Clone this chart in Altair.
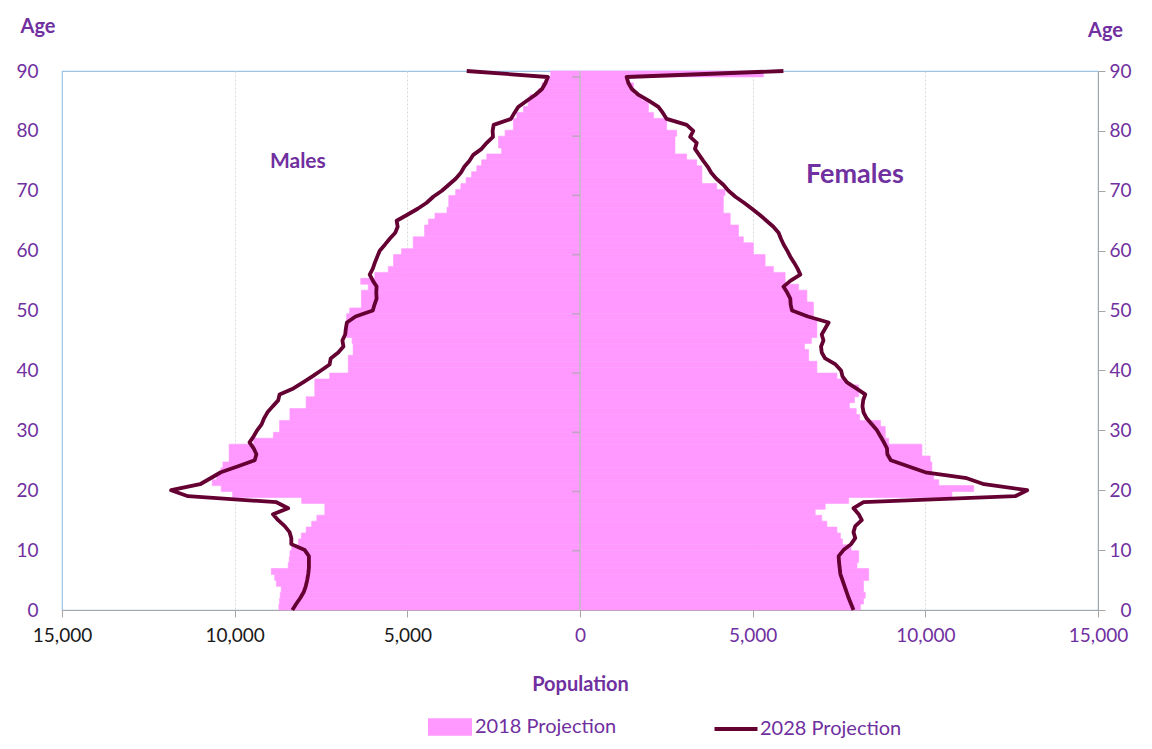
import altair as alt
import pandas as pd

# ---------------- data ----------------
ages = list(range(91))

males_2018 = [8720, 8700, 8680, 8650, 8790, 8840, 8940, 8450, 8420, 8400,
              8350, 8150, 8070, 7930, 7770, 7620, 7390, 7390, 8060, 10060,
              10390, 10650, 10520, 10400, 10340, 10160, 10160, 10160, 9450, 8880,
              8700, 8700, 8400, 8400, 7930, 7930, 7680, 7680, 7680, 7250,
              6710, 6710, 6710, 6570, 6570, 6600, 6760, 6760, 6760, 6760,
              6670, 6330, 6330, 6330, 6130, 6350, 5940, 5550, 5400, 5400,
              5170, 4830, 4830, 4500, 4500, 4390, 4200, 3850, 3800, 3800,
              3600, 3450, 3300, 3140, 2990, 2850, 2700, 2270, 2360, 2360,
              2170, 1930, 1930, 1830, 1640, 1500, 1450, 1200, 1100, 970,
              850]

females_2018 = [8120, 8210, 8260, 8210, 8210, 8360, 8360, 8020, 8070, 8070,
                7850, 7600, 7540, 7440, 7150, 7000, 6810, 7100, 7780, 10770,
                11400, 10390, 10240, 10190, 10190, 10140, 9900, 9900, 8940, 8840,
                8840, 8700, 8100, 8000, 7800, 7950, 8070, 8070, 7700, 7440,
                6860, 6860, 6620, 6620, 6500, 6700, 6860, 6860, 6860, 6760,
                6760, 6760, 6570, 6570, 6330, 5940, 5940, 5600, 5360, 5360,
                5020, 5020, 4730, 4590, 4590, 4350, 4350, 4150, 4150, 4150,
                4200, 3960, 3530, 3530, 3530, 3380, 3090, 2750, 2750, 2750,
                2800, 2510, 2510, 2130, 1980, 1980, 1790, 1550, 1550, 1400,
                5310]

males_2028 = [8330, 8220, 8100, 8000, 7940, 7900, 7870, 7850, 7850, 7850,
              7970, 8360, 8360, 8410, 8550, 8740, 8890, 8450, 8790, 11350,
              11840, 11000, 10700, 10400, 9900, 9420, 9370, 9450, 9570, 9450,
              9350, 9220, 9150, 9050, 8900, 8740, 8700, 8300, 8020, 7750,
              7500, 7250, 7220, 7000, 6850, 6880, 6800, 6780, 6750, 6500,
              6000, 5950, 5890, 5900, 5890, 6000, 6090, 6000, 5940, 5870,
              5800, 5650, 5510, 5350, 5280, 5310, 5000, 4700, 4440, 4250,
              4000, 3800, 3600, 3450, 3350, 3200, 3090, 2850, 2700, 2520,
              2530, 2500, 2000, 1900, 1790, 1550, 1300, 1100, 1000, 930,
              3280]

females_2028 = [7920, 7850, 7780, 7720, 7660, 7600, 7540, 7520, 7500, 7490,
                7630, 7850, 7970, 7920, 7970, 8160, 8070, 7920, 8210, 12600,
                12950, 11700, 11200, 10000, 9500, 9000, 8900, 8890, 8800, 8700,
                8600, 8450, 8300, 8210, 8180, 8200, 8260, 8000, 7730, 7600,
                7560, 7400, 7100, 7000, 6980, 7050, 7000, 7100, 7200, 6600,
                6140, 6100, 6090, 6000, 5890, 6100, 6380, 6300, 6200, 6090,
                6000, 5900, 5820, 5750, 5600, 5400, 5200, 4980, 4750, 4500,
                4300, 4150, 3950, 3800, 3700, 3570, 3450, 3330, 3380, 3190,
                3280, 3090, 2510, 2400, 2270, 2000, 1700, 1500, 1400, 1350,
                5890]

x_ticks = [-15000, -10000, -5000, 0, 5000, 10000, 15000]
age_ticks = [0, 10, 20, 30, 40, 50, 60, 70, 80, 90]
centre_ticks = [10, 20, 30, 40, 50, 60, 70, 80, 90]

annot_labels = ["Males", "Females"]
annot_pop = [-8170, 7960]
annot_age = [74.8, 72.6]
annot_size = [21, 27]

# ---------------- styles ----------------
PURPLE = "#7030A0"
PINK = "#FF99FF"
MAROON = "#650032"
GREY = "#A6A6A6"
FONT = "Lato"

bar_rows = []
line_rows = []
for i, a in enumerate(ages):
    bar_rows.append({"age": a, "sex": "Males", "series": "2018 Projection", "signed": -males_2018[i]})
    bar_rows.append({"age": a, "sex": "Females", "series": "2018 Projection", "signed": females_2018[i]})
    line_rows.append({"age": a, "sex": "Males", "series": "2028 Projection", "signed": -males_2028[i]})
    line_rows.append({"age": a, "sex": "Females", "series": "2028 Projection", "signed": females_2028[i]})
bars_df = pd.DataFrame(bar_rows)
line_df = pd.DataFrame(line_rows)
annot_df = pd.DataFrame({"label": annot_labels, "signed": annot_pop, "age": annot_age, "fs": annot_size})
ticks_df = pd.DataFrame({"cat": centre_ticks, "signed": [0] * len(centre_ticks)})
centre_df = pd.DataFrame({"signed": [0]})

yscale = alt.Scale(domain=[0, 90], nice=False, zero=False)
xscale = alt.Scale(domain=[-15000, 15000], nice=False, zero=False)

x_axis = alt.Axis(
    values=x_ticks,
    labelExpr="format(abs(datum.value), ',')",
    labelColor={"condition": {"test": "datum.value < 0", "value": "#1a1a1a"}, "value": PURPLE},
    labelFont=FONT, labelFontSize=19, labelPadding=9, labelFlush=False,
    grid=True, gridColor="#D9D9D9", gridDash=[2, 2],
    gridOpacity={"condition": {"test": "abs(datum.value) == 15000 || datum.value == 0", "value": 0}, "value": 1},
    domainColor=GREY, tickColor=GREY, tickSize=7,
    title="Population", titleFont=FONT, titleFontSize=20, titleFontWeight="bold",
    titleColor=PURPLE, titleY=74, titleBaseline="middle",
)
x_enc = alt.X("signed:Q", scale=xscale, axis=x_axis)

left_axis = alt.Axis(
    values=age_ticks, orient="left", ticks=False, tickSize=0, domain=False, grid=False,
    labelFont=FONT, labelFontSize=19, labelColor=PURPLE, labelPadding=24, labelFlush=False,
    title="Age", titleAngle=0, titleX=-42, titleY=-45, titleAlign="left", titleBaseline="middle",
    titleFont=FONT, titleFontSize=20, titleFontWeight="bold", titleColor=PURPLE,
)
right_axis = alt.Axis(
    values=age_ticks, orient="right", ticks=True, tickSize=7, tickColor=GREY, domain=True,
    domainColor=GREY, grid=False, labelAlign="right", labelPadding=26,
    labelFont=FONT, labelFontSize=19, labelColor=PURPLE, labelFlush=False,
    title="Age", titleAngle=0, titleX=7, titleY=-41, titleAlign="center", titleBaseline="middle",
    titleFont=FONT, titleFontSize=20, titleFontWeight="bold", titleColor=PURPLE,
)

leg_bar = alt.Legend(
    orient="none", legendX=366, legendY=634, title=None, direction="horizontal",
    symbolType="M-1,-0.4H1V0.4H-1Z", symbolSize=1936, symbolStrokeWidth=0,
    labelFont=FONT, labelFontSize=20, labelColor=PURPLE, labelOffset=3,
)
leg_line = alt.Legend(
    orient="none", legendX=650, legendY=634, title=None, direction="horizontal",
    symbolType="stroke", symbolSize=1850, symbolStrokeWidth=4,
    labelFont=FONT, labelFontSize=20, labelColor=PURPLE, labelOffset=0,
)

bars = alt.Chart(bars_df).transform_calculate(
    ylo="datum.age * 90 / 91", yhi="(datum.age + 1) * 90 / 91", zero="0"
).mark_rect(stroke=PINK, strokeWidth=0.6).encode(
    x=x_enc,
    x2=alt.X2("zero"),
    y=alt.Y("ylo:Q", scale=yscale, axis=left_axis),
    y2=alt.Y2("yhi"),
    fill=alt.Fill("series:N", scale=alt.Scale(domain=["2018 Projection"], range=[PINK]), legend=leg_bar),
)

centre = alt.Chart(centre_df).mark_rule(color="#BFBFBF", strokeWidth=1.5).encode(x=x_enc)

cticks = alt.Chart(ticks_df).transform_calculate(
    ty="datum.cat * 90 / 91"
).mark_tick(orient="horizontal", size=8, thickness=1.5, color=GREY, xOffset=-4).encode(
    x=x_enc,
    y=alt.Y("ty:Q", scale=yscale, axis=None),
)

lines = alt.Chart(line_df).mark_line(strokeWidth=3.8, strokeJoin="round").encode(
    x=x_enc,
    y=alt.Y("age:Q", scale=yscale, axis=right_axis),
    detail="sex:N",
    order="age:Q",
    stroke=alt.Stroke("series:N", scale=alt.Scale(domain=["2028 Projection"], range=[MAROON]), legend=leg_line),
)

texts = alt.Chart(annot_df).mark_text(font=FONT, fontWeight="bold", color=PURPLE).encode(
    x=x_enc,
    y=alt.Y("age:Q", scale=yscale, axis=None),
    text="label:N",
    size=alt.Size("fs:Q", scale=None, legend=None),
)

chart = alt.layer(bars, centre, cticks, lines, texts).resolve_scale(
    y="independent"
).properties(
    width=1036, height=539,
    autosize=alt.AutoSizeParams(type="none"),
    padding={"left": 54, "top": 63, "right": 46, "bottom": 130},
).configure_view(stroke="#9DC3E6", strokeWidth=1.2)

chart.save("out.html", embed_options={"renderer": "svg", "actions": False})
